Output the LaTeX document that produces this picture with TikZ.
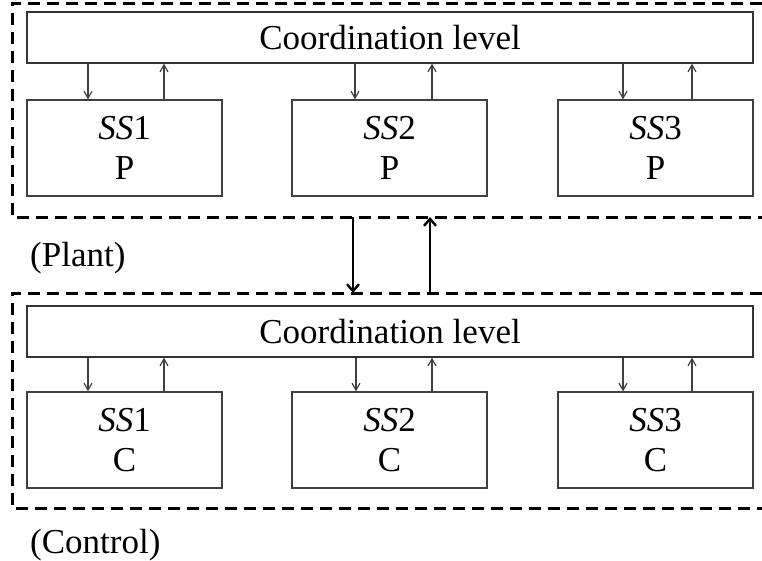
\documentclass[tikz,border=0pt]{standalone}
\usepackage{fontspec}
\setmainfont{Liberation Serif}
\usetikzlibrary{arrows.meta}
\begin{document}
\begin{tikzpicture}[x=1pt,y=-1pt,
  every node/.style={font=\fontsize{35}{42}\selectfont, inner sep=0pt},
  coordbox/.style={draw=black!80, line width=1.3pt, minimum width=726pt, minimum height=51pt},
  ssbox/.style={draw=black!75, line width=1.3pt, minimum width=195pt, minimum height=96pt, align=center, font=\fontsize{35}{40}\selectfont},
  thinarr/.style={draw=black!75, line width=1.2pt, -{Straight Barb[length=7pt,width=8pt]}},
  bigarr/.style={draw=black, line width=2.4pt, -{Straight Barb[length=7pt,width=12pt,line width=2.4pt]}},
  dashbox/.style={draw=black, line width=3pt, dash pattern=on 12pt off 7pt},
  lbl/.style={anchor=base west}
]
\useasboundingbox (0,0) rectangle (762,560);

% ---------- Plant ----------
\coordinate (pa) at (762,3);
\coordinate (pb) at (12,3);
\coordinate (pc) at (12,217);
\coordinate (pd) at (762,217);
\draw[dashbox] (pa) -- (pb) -- (pc) -- (pd);

\node[coordbox] (cp) at (390,37.5) {Coordination level};
\node[ssbox] (p1) at (124.5,148) {\textit{SS}1\\P};
\node[ssbox] (p2) at (389.5,148) {\textit{SS}2\\P};
\node[ssbox] (p3) at (655.5,148) {\textit{SS}3\\P};

\draw[thinarr] ([xshift=-36.5pt]p1.north |- cp.south) -- ([xshift=-36.5pt]p1.north);
\draw[thinarr] ([xshift=39.5pt]p1.north) -- ([xshift=39.5pt]p1.north |- cp.south);
\draw[thinarr] ([xshift=-34.5pt]p2.north |- cp.south) -- ([xshift=-34.5pt]p2.north);
\draw[thinarr] ([xshift=42.5pt]p2.north) -- ([xshift=42.5pt]p2.north |- cp.south);
\draw[thinarr] ([xshift=-32.5pt]p3.north |- cp.south) -- ([xshift=-32.5pt]p3.north);
\draw[thinarr] ([xshift=36.5pt]p3.north) -- ([xshift=36.5pt]p3.north |- cp.south);

\node[lbl] (plant) at (30,266) {(Plant)};

% ---------- Control ----------
\coordinate (ca) at (762,293);
\coordinate (cb) at (12,293);
\coordinate (cc) at (12,508);
\coordinate (cd) at (762,508);
\draw[dashbox] (ca) -- (cb) -- (cc) -- (cd);

\node[coordbox] (cq) at (390,331.5) {Coordination level};
\node[ssbox] (c1) at (124.5,440) {\textit{SS}1\\C};
\node[ssbox] (c2) at (389.5,440) {\textit{SS}2\\C};
\node[ssbox] (c3) at (655.5,440) {\textit{SS}3\\C};

\draw[thinarr] ([xshift=-36.5pt]c1.north |- cq.south) -- ([xshift=-36.5pt]c1.north);
\draw[thinarr] ([xshift=39.5pt]c1.north) -- ([xshift=39.5pt]c1.north |- cq.south);
\draw[thinarr] ([xshift=-33.5pt]c2.north |- cq.south) -- ([xshift=-33.5pt]c2.north);
\draw[thinarr] ([xshift=42.5pt]c2.north) -- ([xshift=42.5pt]c2.north |- cq.south);
\draw[thinarr] ([xshift=-32.5pt]c3.north |- cq.south) -- ([xshift=-32.5pt]c3.north);
\draw[thinarr] ([xshift=36.5pt]c3.north) -- ([xshift=36.5pt]c3.north |- cq.south);

\node[lbl] (control) at (30,553) {(Control)};

% ---------- Plant <-> Control ----------
\coordinate (d1) at (353,217);
\coordinate (d2) at (353,293);
\coordinate (u1) at (430,293);
\coordinate (u2) at (430,217);
\draw[bigarr] (d1) -- (d2);
\draw[bigarr] (u1) -- (u2);
\end{tikzpicture}
\end{document}
